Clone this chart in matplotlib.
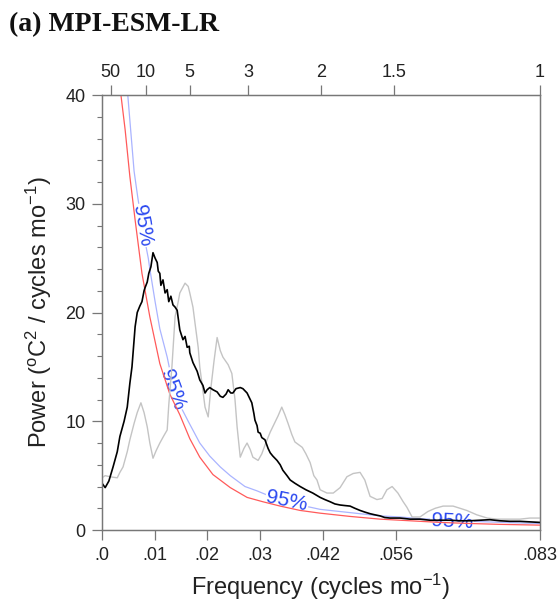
import numpy as np
import matplotlib
matplotlib.use("Agg")
import matplotlib.pyplot as plt
from matplotlib.ticker import MultipleLocator

plt.rcParams["font.family"] = ["Liberation Sans", "DejaVu Sans"]

# model spectrum (black), cycles/mo vs power
freq_model = [0.0000, 0.0006, 0.0013, 0.0021, 0.0029, 0.0034, 0.0042, 0.0048, 0.0053, 0.0057,
              0.0063, 0.0067, 0.0072, 0.0076, 0.0080, 0.0082, 0.0086, 0.0089, 0.0093, 0.0097,
              0.0101, 0.0105, 0.0107, 0.0110, 0.0112, 0.0116, 0.0120, 0.0124, 0.0127, 0.0131,
              0.0135, 0.0139, 0.0143, 0.0148, 0.0154, 0.0158, 0.0162, 0.0166, 0.0167, 0.0173,
              0.0177, 0.0181, 0.0186, 0.0192, 0.0196, 0.0200, 0.0205, 0.0211, 0.0219, 0.0225,
              0.0230, 0.0236, 0.0240, 0.0245, 0.0249, 0.0255, 0.0263, 0.0268, 0.0276, 0.0282,
              0.0285, 0.0289, 0.0291, 0.0295, 0.0297, 0.0301, 0.0304, 0.0310, 0.0316, 0.0320,
              0.0325, 0.0333, 0.0339, 0.0344, 0.0352, 0.0358, 0.0367, 0.0377, 0.0388, 0.0401,
              0.0415, 0.0424, 0.0434, 0.0443, 0.0453, 0.0462, 0.0472, 0.0481, 0.0491, 0.0500,
              0.0510, 0.0519, 0.0529, 0.0538, 0.0548, 0.0567, 0.0586, 0.0605, 0.0624, 0.0643,
              0.0662, 0.0681, 0.0700, 0.0719, 0.0738, 0.0757, 0.0776, 0.0795, 0.0814, 0.0833]
power_model = [4.3, 3.9, 4.5, 5.8, 7.2, 8.6, 10.0, 11.3, 13.5, 15.0,
               18.7, 20.0, 20.6, 21.0, 22.0, 22.3, 22.8, 23.6, 24.2, 25.5,
               25.0, 24.6, 23.8, 23.6, 22.5, 23.0, 21.8, 22.1, 21.0, 21.5,
               20.7, 20.5, 20.2, 18.4, 17.5, 17.8, 16.8, 16.9, 16.3, 15.4,
               15.0, 14.6, 13.8, 13.3, 12.6, 12.9, 13.1, 12.9, 12.7, 12.3,
               12.2, 12.5, 12.9, 12.6, 12.6, 13.0, 13.1, 13.0, 12.6, 12.0,
               11.7, 10.7, 10.1, 9.6, 9.0, 8.9, 8.5, 8.3, 7.5, 7.1,
               6.8, 6.4, 6.0, 5.5, 5.0, 4.6, 4.3, 4.0, 3.7, 3.4,
               3.0, 2.8, 2.6, 2.4, 2.3, 2.25, 2.2, 2.0, 1.8, 1.65,
               1.5, 1.4, 1.3, 1.15, 1.1, 1.1, 1.0, 1.0, 0.9, 0.9,
               0.9, 0.85, 0.85, 0.9, 0.95, 0.85, 0.8, 0.8, 0.75, 0.7]

# observed spectrum (light gray)
freq_obs = [0.0000, 0.0006, 0.0015, 0.0029, 0.0034, 0.0040, 0.0048, 0.0053, 0.0061, 0.0067,
            0.0074, 0.0080, 0.0086, 0.0091, 0.0097, 0.0103, 0.0110, 0.0118, 0.0124, 0.0127,
            0.0133, 0.0139, 0.0145, 0.0148, 0.0158, 0.0164, 0.0167, 0.0173, 0.0177, 0.0183,
            0.0186, 0.0192, 0.0196, 0.0202, 0.0207, 0.0213, 0.0219, 0.0225, 0.0230, 0.0240,
            0.0247, 0.0253, 0.0257, 0.0263, 0.0270, 0.0276, 0.0282, 0.0287, 0.0297, 0.0304,
            0.0310, 0.0320, 0.0325, 0.0335, 0.0342, 0.0348, 0.0354, 0.0361, 0.0367, 0.0381,
            0.0388, 0.0396, 0.0403, 0.0409, 0.0415, 0.0428, 0.0440, 0.0453, 0.0466, 0.0478,
            0.0491, 0.0500, 0.0510, 0.0523, 0.0533, 0.0542, 0.0552, 0.0563, 0.0573, 0.0580,
            0.0590, 0.0605, 0.0620, 0.0634, 0.0649, 0.0668, 0.0681, 0.0694, 0.0713, 0.0733,
            0.0752, 0.0771, 0.0795, 0.0814, 0.0833]
power_obs = [4.8, 5.0, 4.9, 4.8, 5.3, 5.8, 7.2, 8.3, 9.8, 10.8,
             11.7, 10.8, 9.5, 8.0, 6.6, 7.3, 8.0, 8.7, 9.2, 11.5,
             15.0, 19.6, 21.0, 21.8, 22.7, 22.4, 21.8, 20.5, 19.0, 16.8,
             15.0, 12.8, 11.3, 10.4, 13.0, 15.5, 17.7, 16.5, 15.9, 15.2,
             14.4, 12.0, 9.5, 6.7, 7.5, 8.0, 7.4, 6.7, 6.4, 7.0,
             7.8, 9.0, 9.5, 10.5, 11.3, 10.6, 9.8, 8.8, 8.1, 7.6,
             7.0, 6.2, 5.0, 4.6, 3.7, 3.4, 3.4, 3.9, 4.9, 5.2,
             5.3, 4.6, 3.1, 2.8, 2.9, 3.7, 4.0, 3.4, 2.6, 2.1,
             1.2, 1.2, 1.7, 2.0, 2.2, 2.2, 2.0, 1.8, 1.4, 1.1,
             1.0, 1.0, 1.0, 1.1, 1.1]

# red-noise background (red)
freq_red = [0.0027, 0.0036, 0.0044, 0.0053, 0.0063, 0.0076, 0.0091, 0.0110, 0.0129, 0.0148,
            0.0167, 0.0186, 0.0211, 0.0244, 0.0276, 0.0306, 0.0339, 0.0377, 0.0415, 0.0472,
            0.0529, 0.0586, 0.0643, 0.0700, 0.0757, 0.0833]
power_red = [45.0, 40.0, 36.8, 32.5, 28.5, 23.6, 19.6, 15.3, 12.5, 10.6,
             8.4, 6.7, 5.1, 3.9, 3.0, 2.6, 2.2, 1.8, 1.55, 1.25,
             1.0, 0.85, 0.7, 0.6, 0.52, 0.45]

# 95% confidence curve (light blue)
freq_95 = [0.0044, 0.0049, 0.0055, 0.0061, 0.0068, 0.0078, 0.0088, 0.0091, 0.0101, 0.0110,
           0.0124, 0.0133, 0.0145, 0.0148, 0.0164, 0.0186, 0.0205, 0.0225, 0.0244, 0.0272,
           0.0295, 0.0320, 0.0348, 0.0377, 0.0415, 0.0453, 0.0491, 0.0529, 0.0567, 0.0605,
           0.0643, 0.0681, 0.0733, 0.0776, 0.0833]
power_95 = [44.0, 40.0, 36.5, 33.0, 30.6, 27.5, 25.0, 24.0, 21.0, 18.5,
            15.9, 13.8, 11.9, 11.5, 10.0, 8.0, 6.8, 5.8, 5.0, 4.0,
            3.6, 3.1, 2.6, 2.3, 1.9, 1.7, 1.5, 1.3, 1.2, 1.05,
            0.95, 0.85, 0.75, 0.68, 0.6]

# "95%" inline labels: (freq, power, rotation)
label_f = [0.0076, 0.0133, 0.0352, 0.0666]
label_p = [28.0, 12.9, 2.7, 0.8]
label_rot = [-80, -70, -12, -3]

xticks = [0.0, 0.01, 0.02, 0.03, 0.042, 0.056, 1 / 12]
xticklabels = [".0", ".01", ".02", ".03", ".042", ".056", ".083"]
periods = [50, 10, 5, 3, 2, 1.5, 1]          # years, top axis
period_labels = ["50", "10", "5", "3", "2", "1.5", "1"]

SPINE = "#777777"
TXT = "#222222"

fig = plt.figure(figsize=(5.59, 6.01), dpi=100)
ax = fig.add_axes([0.1825, 0.1181, 0.7835, 0.7238])

ax.plot(freq_95, power_95, color="#aab4ff", lw=0.9, zorder=1)
for f, p, r in zip(label_f, label_p, label_rot):
    ax.text(f, p, "95%", color="#2a48f0", fontsize=15, rotation=r,
            rotation_mode="anchor", ha="center", va="center", zorder=2,
            bbox=dict(boxstyle="square,pad=0.05", fc="white", ec="none"))
ax.plot(freq_red, power_red, color="#ff5a5a", lw=0.9, zorder=3)
ax.plot(freq_obs, power_obs, color="#c4c4c4", lw=1.0, zorder=3)
ax.plot(freq_model, power_model, color="black", lw=1.2, zorder=4)

ax.set_xlim(0, 1 / 12)
ax.set_ylim(0, 40)
ax.set_xticks(xticks)
ax.set_xticklabels(xticklabels)
ax.set_yticks([0, 10, 20, 30, 40])
ax.yaxis.set_minor_locator(MultipleLocator(2))
ax.tick_params(axis="both", which="major", direction="out", length=7, width=0.9,
               color=SPINE, labelcolor=TXT, labelsize=13, pad=5)
ax.tick_params(axis="y", which="minor", direction="out", length=3.5, width=0.8, color=SPINE)
for s in ax.spines.values():
    s.set_color(SPINE)
    s.set_linewidth(0.9)

ax.set_xlabel(r"Frequency (cycles mo$\mathregular{^{-1}}$)", fontsize=17, color=TXT, labelpad=6)
ax.set_ylabel(r"Power ($\mathregular{^oC^2}$ / cycles mo$\mathregular{^{-1}}$)",
              fontsize=17, color=TXT, labelpad=8)

top = ax.twiny()
top.set_xlim(ax.get_xlim())
top.set_xticks([1 / (12 * p) for p in periods])
top.set_xticklabels(period_labels)
top.tick_params(axis="x", direction="out", length=7, width=0.9, color=SPINE,
                labelcolor=TXT, labelsize=13, pad=3)
for s in top.spines.values():
    s.set_color(SPINE)
    s.set_linewidth(0.9)

fig.text(0.016, 1 - 31 / 601, "(a) MPI-ESM-LR", family=["Liberation Serif", "DejaVu Serif"],
         fontweight="bold", fontsize=20, va="baseline", ha="left", color="#111111")

fig.savefig("out.png", dpi=100)
